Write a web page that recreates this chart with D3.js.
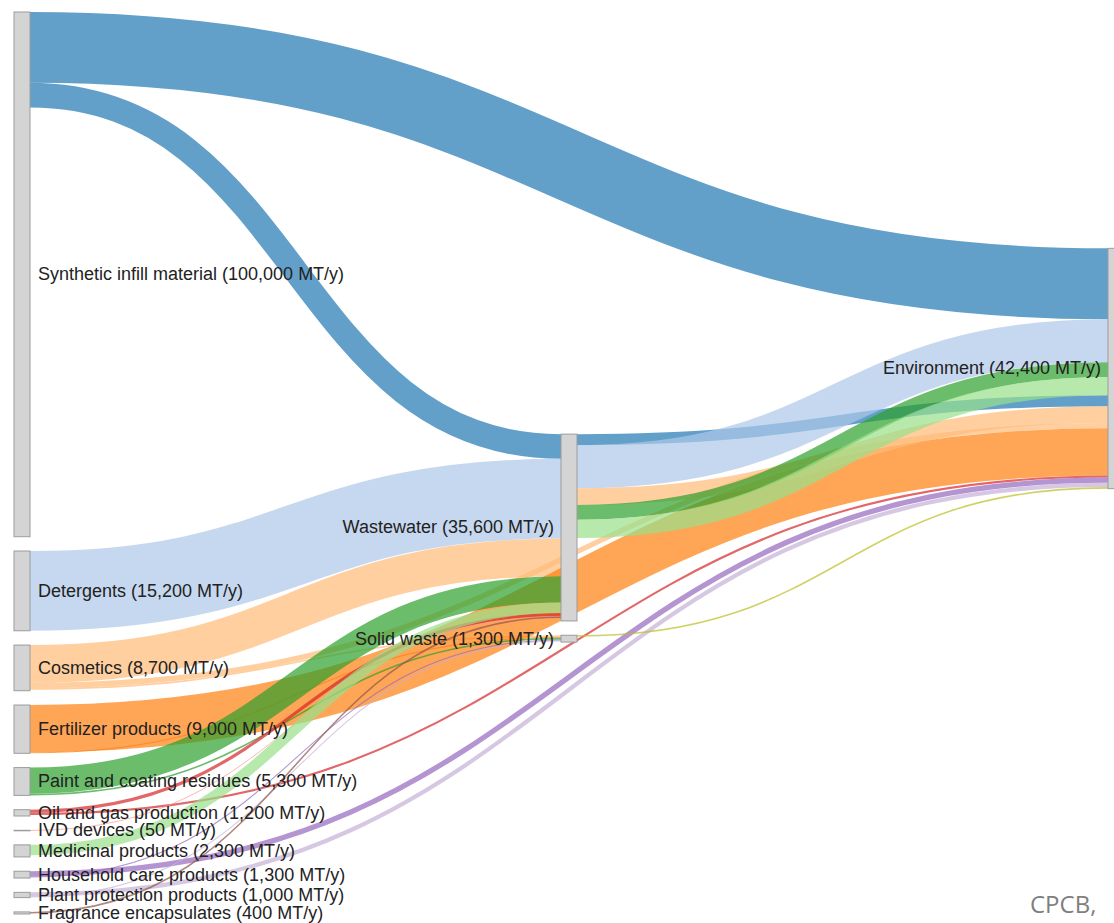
<!DOCTYPE html>
<html>
<head>
<meta charset="utf-8">
<script src="https://cdn.jsdelivr.net/npm/d3@7"></script>
<style>
  html, body { margin: 0; padding: 0; background: #ffffff; }
  svg { display: block; }
</style>
</head>
<body>
<svg id="chart" width="1114" height="923"></svg>
<script>
// ---------------- DATA ----------------
const nodeNames = [
  "Synthetic infill material", "Detergents", "Cosmetics", "Fertilizer products",
  "Paint and coating residues", "Oil and gas production", "IVD devices",
  "Medicinal products", "Household care products", "Plant protection products",
  "Fragrance encapsulates", "Wastewater", "Solid waste", "Environment"
];
const nodeValues = [100000, 15200, 8700, 9000, 5300, 1200, 50, 2300, 1300, 1000, 400, 35600, 1300, 42400];
const nodeColumns = [0, 0, 0, 0, 0, 0, 0, 0, 0, 0, 0, 1, 1, 2];

// links listed in the order they leave their source node
const linkSources = [
  "Synthetic infill material", "Synthetic infill material",
  "Detergents",
  "Cosmetics", "Cosmetics", "Cosmetics",
  "Fertilizer products", "Fertilizer products",
  "Paint and coating residues", "Paint and coating residues",
  "Oil and gas production", "Oil and gas production",
  "IVD devices",
  "Medicinal products",
  "Household care products", "Household care products",
  "Plant protection products", "Plant protection products",
  "Fragrance encapsulates",
  "Wastewater", "Wastewater", "Wastewater", "Wastewater", "Wastewater",
  "Solid waste"
];
const linkTargets = [
  "Environment", "Wastewater",
  "Wastewater",
  "Wastewater", "Environment", "Solid waste",
  "Environment", "Solid waste",
  "Wastewater", "Solid waste",
  "Wastewater", "Environment",
  "Wastewater",
  "Wastewater",
  "Environment", "Solid waste",
  "Environment", "Solid waste",
  "Wastewater",
  "Environment", "Environment", "Environment", "Environment", "Environment",
  "Environment"
];
const linkValues = [
  13500, 4700,
  15200,
  7200, 1000, 300,
  9000, 200,
  5000, 300,
  600, 400,
  50,
  2000,
  1000, 200,
  800, 200,
  300,
  2100, 8200, 3200, 2800, 3500,
  300
];
// material the flow carries (drives the colour)
const linkOrigins = [
  "Synthetic infill material", "Synthetic infill material",
  "Detergents",
  "Cosmetics", "Cosmetics", "Cosmetics",
  "Fertilizer products", "Fertilizer products",
  "Paint and coating residues", "Paint and coating residues",
  "Oil and gas production", "Oil and gas production",
  "IVD devices",
  "Medicinal products",
  "Household care products", "Household care products",
  "Plant protection products", "Plant protection products",
  "Fragrance encapsulates",
  "Synthetic infill material", "Detergents", "Cosmetics", "Paint and coating residues", "Medicinal products",
  "Solid waste"
];
// order in which each link enters its target node
const linkInRank = [
  0, 0,
  1,
  2, 6, 0,
  7, 1,
  3, 2,
  5, 8,
  6,
  4,
  9, 3,
  10, 4,
  7,
  4, 1, 5, 2, 3,
  11
];
const originPalette = [
  "#1f77b4", "#aec7e8", "#ffbb78", "#ff7f0e", "#2ca02c", "#d62728",
  "#ff9896", "#98df8a", "#9467bd", "#c5b0d5", "#8c564b", "#7f7f7f", "#bcbd22", "#17becf"
];

// ---------------- LAYOUT ----------------
const W = 1114, H = 923;
const margin = { top: 12, bottom: 9, left: 14, right: 6 };
const nodeWidth = 16, nodePadding = 14.3;
const innerH = H - margin.top - margin.bottom;
const columnTopFraction = [0, 0.468, 0.262];

const nodes = nodeNames.map((name, i) => ({ name, value: nodeValues[i], col: nodeColumns[i], out: [], inn: [] }));
const byName = new Map(nodes.map(n => [n.name, n]));
const links = linkSources.map((s, i) => ({
  source: byName.get(s), target: byName.get(linkTargets[i]),
  value: linkValues[i], origin: linkOrigins[i], rank: linkInRank[i]
}));
links.forEach(l => { l.source.out.push(l); l.target.inn.push(l); });
nodes.forEach(n => {
  n.size = Math.max(n.value, d3.sum(n.out, l => l.value), d3.sum(n.inn, l => l.value));
});

const columns = d3.groups(nodes, n => n.col).sort((a, b) => a[0] - b[0]).map(d => d[1]);
const ky = d3.min(columns, c => (innerH - (c.length - 1) * nodePadding) / d3.sum(c, n => n.size));
const vScale = d3.scaleLinear().domain([0, 1]).range([0, ky]);
const xCol = d3.scaleLinear().domain([0, columns.length - 1]).range([margin.left, W - margin.right]);

columns.forEach((c, ci) => {
  let y = margin.top + columnTopFraction[ci] * innerH;
  c.forEach(n => {
    n.x0 = xCol(ci);
    n.x1 = n.x0 + nodeWidth;
    n.y0 = y;
    n.y1 = y + vScale(n.size);
    y = n.y1 + nodePadding;
  });
});

links.forEach(l => { l.w = vScale(l.value); });
nodes.forEach(n => {
  let sy = n.y0;
  n.out.forEach(l => { l.sy = sy + l.w / 2; sy += l.w; });
  let ty = n.y0;
  n.inn.slice().sort((a, b) => a.rank - b.rank).forEach(l => { l.ty = ty + l.w / 2; ty += l.w; });
});

const color = d3.scaleOrdinal().domain(nodeNames).range(originPalette);

// ---------------- DRAW ----------------
const svg = d3.select("#chart");

const linkGen = d3.linkHorizontal()
  .source(l => [l.source.x1, l.sy])
  .target(l => [l.target.x0, l.ty]);

svg.append("g")
  .attr("fill", "none")
  .selectAll("path")
  .data(links)
  .join("path")
  .attr("d", linkGen)
  .attr("stroke", l => color(l.origin))
  .attr("stroke-opacity", 0.7)
  .attr("stroke-width", l => Math.max(1, l.w));

svg.append("g")
  .selectAll("rect")
  .data(nodes)
  .join("rect")
  .attr("x", n => n.x0)
  .attr("y", n => n.y0)
  .attr("width", nodeWidth)
  .attr("height", n => Math.max(0.5, n.y1 - n.y0))
  .attr("fill", "#d4d4d4")
  .attr("stroke", "#9c9c9c")
  .attr("stroke-width", 1);

const fmt = d3.format(",");
svg.append("g")
  .attr("font-family", "'Liberation Sans', Arial, Helvetica, sans-serif")
  .attr("font-size", 18)
  .attr("fill", "#222")
  .selectAll("text")
  .data(nodes)
  .join("text")
  .attr("x", n => n.col === 0 ? n.x1 + 8 : n.x0 - 7)
  .attr("y", n => (n.y0 + n.y1) / 2)
  .attr("dy", "0.33em")
  .attr("text-anchor", n => n.col === 0 ? "start" : "end")
  .text(n => `${n.name} (${fmt(n.value)} MT/y)`);

svg.append("text")
  .attr("x", 1030)
  .attr("y", 913)
  .attr("font-family", "'Open Sans', 'Noto Sans', sans-serif")
  .attr("font-size", 24)
  .attr("fill", "#7f7f7f")
  .text("CPCB,");
</script>
</body>
</html>
